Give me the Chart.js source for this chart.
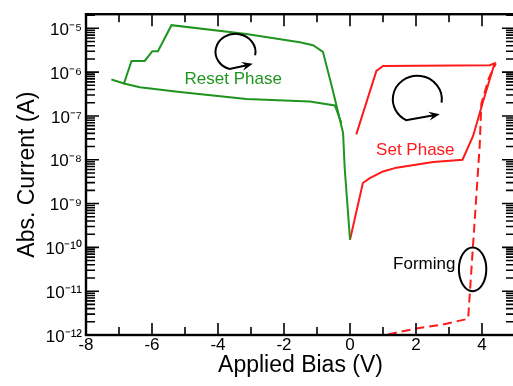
<!DOCTYPE html>
<html>
<head>
<meta charset="utf-8">
<script src="https://cdn.jsdelivr.net/npm/chart.js@4.4.1/dist/chart.umd.min.js"></script>
<style>
html,body{margin:0;padding:0;overflow:hidden;background:#fff;width:513px;height:386px;}
#wrap{position:absolute;left:0;top:0;width:522px;height:386px;}
</style>
</head>
<body>
<div id="wrap"><canvas id="c"></canvas></div>
<script>
// ---- data ----
// Reset sweep (negative bias), upper branch incl. steps, and return (lower) branch
const resetUpperV = [-7.23, -6.85, -6.62, -6.22, -5.99, -5.82, -5.41, -3.14, -1.52, -1.12, -0.82, -0.52, -0.21, -0.16, 0];
const resetUpperI = [6.8e-7, 5.5e-7, 1.8e-6, 1.8e-6, 3.0e-6, 3.0e-6, 1.18e-5, 7.4e-6, 4.8e-6, 4.1e-6, 2.9e-6, 3.8e-7, 4.1e-8, 6.3e-9, 1.5e-10];
const resetLowerV = [-6.85, -6.37, -5.16, -3.14, -1.22, -0.46, -0.26];
const resetLowerI = [5.5e-7, 4.5e-7, 3.5e-7, 2.45e-7, 2.14e-7, 1.74e-7, 6.9e-8];
// Set sweep (positive bias)
const setV = [0, 0.39, 0.6, 1.0, 1.41, 2.52, 3.41, 3.73, 4.03, 4.38, 4.23, 1.0, 0.8, 0.19];
const setI = [1.5e-10, 2.95e-9, 3.8e-9, 5.4e-9, 6.6e-9, 8.9e-9, 1.0e-8, 3.5e-8, 2.1e-7, 1.58e-6, 1.44e-6, 1.38e-6, 1.07e-6, 3.8e-8];
// Forming sweep (dashed)
const formV = [1.15, 2.01, 2.82, 3.58, 3.93, 3.98, 4.2, 4.42];
const formI = [1.03e-12, 1.41e-12, 1.74e-12, 2.35e-12, 2.1e-8, 1.9e-7, 7e-7, 1.58e-6];

// axis ticks
const xTicks = [-8, -7, -6, -5, -4, -3, -2, -1, 0, 1, 2, 3, 4, 5];
const xTickLabels = ['-8', '', '-6', '', '-4', '', '-2', '', '0', '', '2', '', '4', ''];
const yDecades = [-12, -11, -10, -9, -8, -7, -6, -5];
const yTickLabels = ['10\u207B\u00B9\u00B2', '10\u207B\u00B9\u00B9', '10\u207B\u00B9\u2070', '10\u207B\u2079', '10\u207B\u2078', '10\u207B\u2077', '10\u207B\u2076', '10\u207B\u2075'];
const yMin = 1e-12, yMax = 2.1e-5;

const GREEN = '#1f951f', RED = '#ff1a1a';
const FONT = '"Liberation Sans", Arial, Helvetica, sans-serif';

const yTickValues = [];
yDecades.forEach(e => { for (let m = 1; m <= 9; m++) { const v = Number(m + 'e' + e); if (v <= yMax * 1.0001) yTickValues.push(v); } });
const isDecade = v => Math.abs(Math.log10(v) - Math.round(Math.log10(v))) < 1e-6;

const pts = (X, Y) => X.map((v, i) => ({ x: v, y: Y[i] }));

const frameTicks = {
  id: 'frameTicks',
  afterDatasetsDraw(chart) {
    const { ctx, chartArea: a, scales: { x, y } } = chart;
    ctx.save();
    ctx.strokeStyle = '#000';
    ctx.lineWidth = 1.6;
    ctx.beginPath();
    x.ticks.forEach(t => {
      const px = x.getPixelForValue(t.value);
      const len = (Math.round(t.value) % 2 === 0) ? 12 : 8;
      ctx.moveTo(px, a.bottom); ctx.lineTo(px, a.bottom - len);
      ctx.moveTo(px, a.top); ctx.lineTo(px, a.top + len);
    });
    y.ticks.forEach(t => {
      const py = y.getPixelForValue(t.value);
      const len = isDecade(t.value) ? 13 : 9;
      ctx.moveTo(a.left, py); ctx.lineTo(a.left + len, py);
      ctx.moveTo(a.right, py); ctx.lineTo(a.right - len, py);
    });
    ctx.stroke();
    ctx.lineWidth = 2.4;
    ctx.strokeRect(a.left, a.top, a.right - a.left, a.bottom - a.top);
    ctx.restore();
  }
};

function loopArrow(ctx, cx, cy, rx, ry, a0, a1, tdx, tdy) {
  ctx.beginPath();
  ctx.ellipse(cx, cy, rx, ry, 0, a0, a1, true);
  const ex = cx + rx * Math.cos(a1), ey = cy + ry * Math.sin(a1);
  const tx = cx + tdx, ty = cy + tdy;
  const ang = Math.atan2(ty - ey, tx - ex);
  ctx.lineTo(tx - 6 * Math.cos(ang), ty - 6 * Math.sin(ang));
  ctx.stroke();
  const L = 11, W = 4.5;
  ctx.beginPath();
  ctx.moveTo(tx, ty);
  ctx.lineTo(tx - L * Math.cos(ang) + W * Math.sin(ang), ty - L * Math.sin(ang) - W * Math.cos(ang));
  ctx.lineTo(tx - 7 * Math.cos(ang), ty - 7 * Math.sin(ang));
  ctx.lineTo(tx - L * Math.cos(ang) - W * Math.sin(ang), ty - L * Math.sin(ang) + W * Math.cos(ang));
  ctx.closePath();
  ctx.fill();
}

const notes = {
  id: 'notes',
  afterDatasetsDraw(chart) {
    const { ctx, scales: { x, y } } = chart;
    const X = v => x.getPixelForValue(v), Y = v => y.getPixelForValue(v);
    ctx.save();
    ctx.font = '17px ' + FONT;
    ctx.textAlign = 'center';
    ctx.textBaseline = 'middle';
    ctx.fillStyle = GREEN; ctx.fillText('Reset Phase', X(-3.54), Y(6.8e-7));
    ctx.fillStyle = RED; ctx.fillText('Set Phase', X(1.98), Y(1.62e-8));
    ctx.fillStyle = '#000'; ctx.fillText('Forming', X(2.25), Y(4e-11));
    ctx.strokeStyle = '#000'; ctx.fillStyle = '#000'; ctx.lineWidth = 2;
    // forming ellipse
    const l = X(3.30), r = X(4.13), t = Y(1e-10), b = Y(1e-11);
    ctx.beginPath();
    ctx.ellipse((l + r) / 2, (t + b) / 2, (r - l) / 2, (b - t) / 2, 0, 0, Math.PI * 2);
    ctx.stroke();
    // circular arrows
    loopArrow(ctx, X(-3.47), Y(2.9e-6), 20, 18, 0.19, 1.87, 17.3, 12);
    loopArrow(ctx, X(2.04), Y(2.4e-7), 24.5, 23.5, 0.14, 2.05, 22.5, 15);
    ctx.restore();
  }
};

new Chart(document.getElementById('c'), {
  type: 'scatter',
  data: {
    datasets: [
      { data: pts(resetUpperV, resetUpperI), borderColor: GREEN },
      { data: pts(resetLowerV, resetLowerI), borderColor: GREEN },
      { data: pts(setV, setI), borderColor: RED },
      { data: pts(formV, formI), borderColor: RED, borderDash: [9, 5] }
    ].map(d => Object.assign({ showLine: true, pointRadius: 0, borderWidth: 2, tension: 0, fill: false }, d))
  },
  plugins: [frameTicks, notes],
  options: {
    responsive: true,
    maintainAspectRatio: false,
    animation: false,
    devicePixelRatio: 1,
    layout: { padding: { top: 4.5, right: 7, left: 0, bottom: 0 } },
    plugins: { legend: { display: false }, tooltip: { enabled: false } },
    scales: {
      x: {
        type: 'linear', min: -8, max: 5,
        afterBuildTicks: s => { s.ticks = xTicks.map(v => ({ value: v })); },
        afterFit: s => { s.height = 51; },
        grid: { display: false, drawTicks: false },
        border: { display: false },
        ticks: {
          autoSkip: false, maxRotation: 0, padding: 0, color: '#000',
          font: { family: FONT, size: 17 },
          callback: v => { const i = xTicks.indexOf(v); return i >= 0 ? xTickLabels[i] : ''; }
        },
        title: { display: true, text: 'Applied Bias (V)', color: '#000', font: { family: FONT, size: 23 }, padding: { top: 0, bottom: 7 } }
      },
      y: {
        type: 'logarithmic', min: yMin, max: yMax,
        afterBuildTicks: s => { s.ticks = yTickValues.map(v => ({ value: v })); },
        afterFit: s => { s.width = 86; },
        grid: { display: false, drawTicks: false },
        border: { display: false },
        ticks: {
          autoSkip: false, padding: 4, labelOffset: 2, color: '#000',
          font: { family: FONT, size: 17 },
          callback: v => {
            if (!isDecade(v)) return '';
            const i = yDecades.indexOf(Math.round(Math.log10(v)));
            return i >= 0 ? yTickLabels[i] : '';
          }
        },
        title: { display: true, text: 'Abs. Current (A)', color: '#000', font: { family: FONT, size: 23 }, padding: { top: 14, bottom: 0 } }
      }
    }
  }
});
</script>
</body>
</html>
